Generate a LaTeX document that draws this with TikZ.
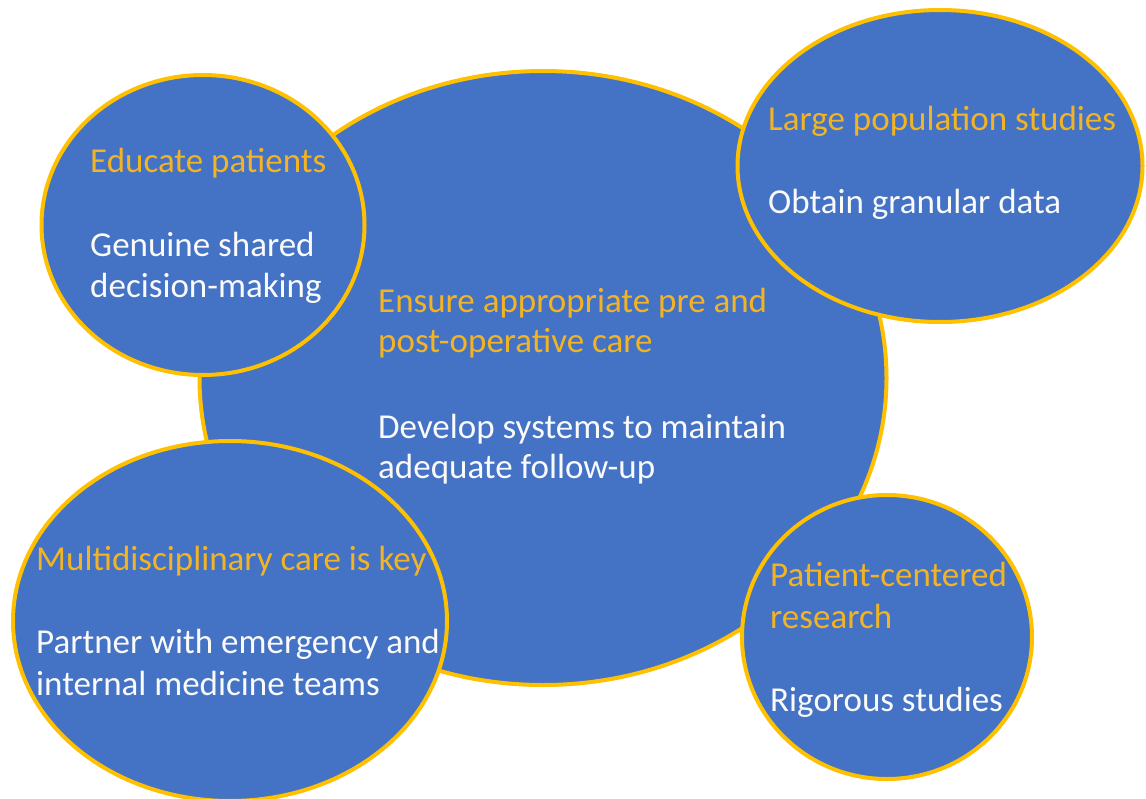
\documentclass[tikz,border=0pt]{standalone}
\usepackage{fontspec}
\setmainfont{Carlito}
\usetikzlibrary{shapes.geometric}
\definecolor{bubbleblue}{HTML}{4472C4}
\definecolor{bubblegold}{HTML}{FFC000}
\definecolor{titlegold}{HTML}{F2B324}
\definecolor{bodywhite}{HTML}{FAFAFA}
\begin{document}
\begin{tikzpicture}[x=1pt,y=-1pt,
  bubble/.style={ellipse, draw=bubblegold, fill=bubbleblue, line width=4pt, inner sep=0pt},
  txt/.style={anchor=base west, inner sep=0pt, font=\fontsize{35}{41}\selectfont},
  titletxt/.style={txt, text=titlegold},
  bodytxt/.style={txt, text=bodywhite}]
\useasboundingbox (0,0) rectangle (1146,798);
\fill[white] (0,0) rectangle (1146,798);
% bubbles
\node[bubble, minimum width=687pt, minimum height=614pt] (center) at (543,378) {};
\node[bubble, minimum width=323pt, minimum height=300pt] (tl) at (203,225) {};
\node[bubble, minimum width=405pt, minimum height=312pt] (tr) at (940,166) {};
\node[bubble, minimum width=434pt, minimum height=360pt] (bl) at (230,621) {};
\node[bubble, minimum width=290pt, minimum height=284pt] (br) at (887,637) {};
% texts
\node[titletxt] (tl1) at (90,172) {Educate patients};
\node[bodytxt] (tl2) at (90,256) {Genuine shared};
\node[bodytxt] (tl3) at (90,297) {decision-making};
\node[titletxt] (c1) at (378,312) {Ensure appropriate pre and};
\node[titletxt] (c2) at (378,352) {post-operative care};
\node[bodytxt] (c3) at (378,438) {Develop systems to maintain};
\node[bodytxt] (c4) at (378,478) {adequate follow-up};
\node[titletxt] (tr1) at (768,130) {Large population studies};
\node[bodytxt] (tr2) at (768,213) {Obtain granular data};
\node[titletxt] (bl1) at (36,570) {Multidisciplinary care is key};
\node[bodytxt] (bl2) at (36,653) {Partner with emergency and};
\node[bodytxt] (bl3) at (36,695) {internal medicine teams};
\node[titletxt] (br1) at (770,586) {Patient-centered};
\node[titletxt] (br2) at (770,628) {research};
\node[bodytxt] (br3) at (770,711) {Rigorous studies};
\end{tikzpicture}
\end{document}
